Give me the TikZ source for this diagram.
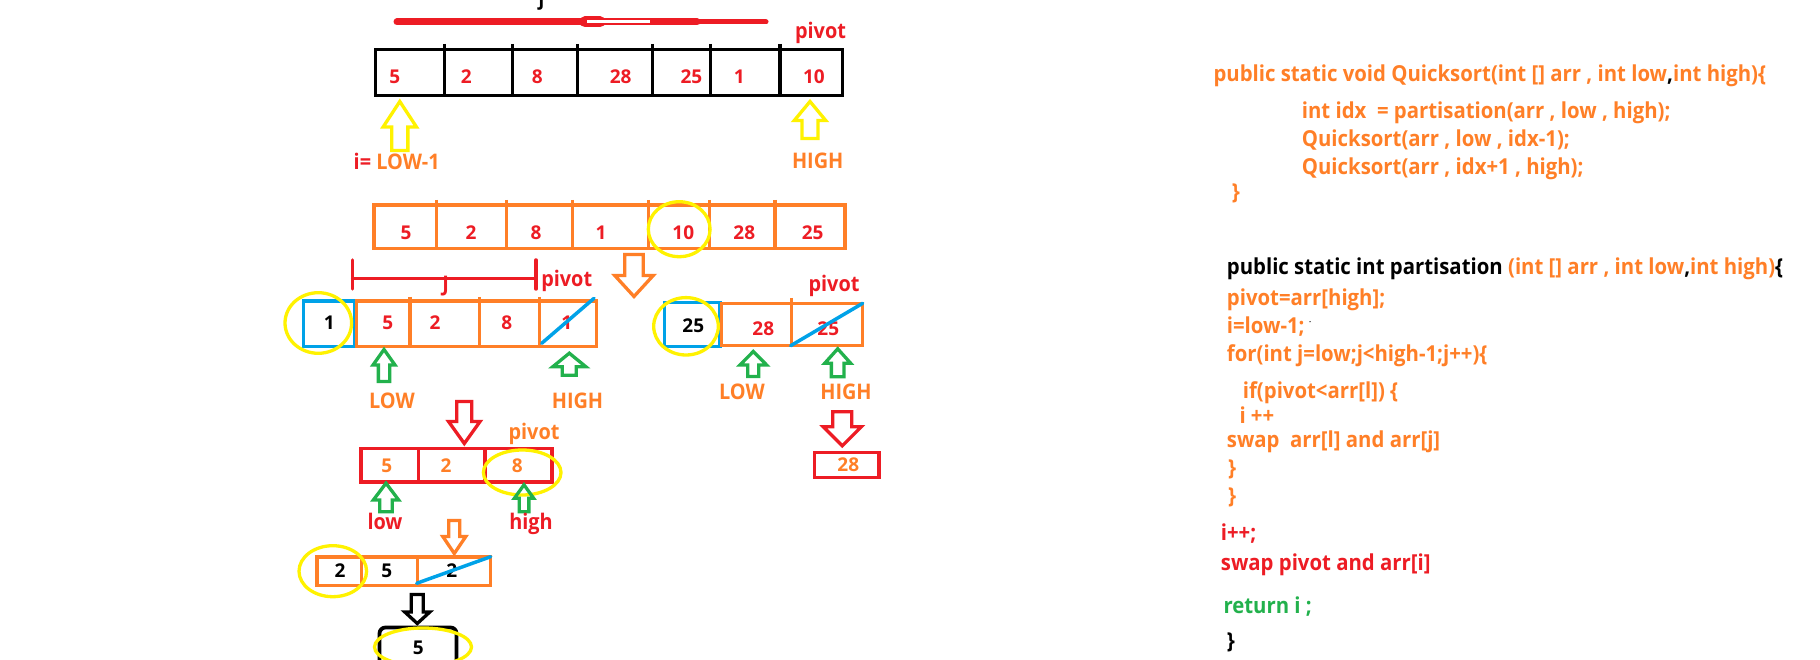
\documentclass[tikz,border=0pt]{standalone}
\usepackage{fontspec}
\setmainfont{Open Sans}
\newfontfamily\codefont{Open Sans}[FakeStretch=0.925]
\definecolor{pred}{HTML}{ED1C24}
\definecolor{porange}{HTML}{FF7F27}
\definecolor{pyellow}{HTML}{FFF200}
\definecolor{pgreen}{HTML}{22B14C}
\definecolor{pblue}{HTML}{00A2E8}
\tikzset{
  lbl/.style={font=\codefont\bfseries\fontsize{21.5}{24}\selectfont, inner sep=0pt, anchor=base},
  num/.style={font=\bfseries\fontsize{19}{21}\selectfont, inner sep=0pt, anchor=center},
  code/.style={font=\codefont\bfseries\fontsize{22}{24}\selectfont, inner sep=0pt, anchor=base west},
  cellbox/.style={line width=3.5pt, line join=miter},
  ring/.style={draw=pyellow, line width=3.3pt},
  slash/.style={draw=pblue, line width=3.5pt, line cap=round},
  pics/harrow/.style args={#1/#2/#3/#4/#5}{code={
    \draw[draw=#5, line width=3.3pt, line join=miter]
      (0,0) -- (-#1/2,#3) -- (-#2/2,#3) -- (-#2/2,#4) -- (#2/2,#4) -- (#2/2,#3) -- (#1/2,#3) -- cycle;}},
}
\begin{document}
\begin{tikzpicture}[x=1pt, y=-1pt]
\useasboundingbox (0,0) rectangle (1820,660);
\fill[white] (0,0) rectangle (1820,660);

% ---------- first pass: whole array ----------
\node[lbl, font=\codefont\bfseries\fontsize{20}{22}\selectfont] (jtop) at (541.5,6) {j};
\draw[pred, line width=7pt, line cap=round] (397,22) -- (697,22);
\draw[pred, line width=5pt, line cap=round] (697,22) -- (766,22);
\draw[pred, line width=11pt, line cap=round] (585,22) -- (600,22);
\draw[white, line width=2.5pt] (587,21.7) -- (650,21.7);

\draw[cellbox] (375.6,49.5) rectangle (842.7,95.5);
\foreach \x in {444.6,512.3,577.4,652.4,710.5,780.2}
  \draw[cellbox] (\x,44) -- (\x,95.5);
\node[lbl, pred] (pv0) at (820.5,38.3) {pivot};
\node[num, pred] (t1) at (394.8,76.7) {5};
\node[num, pred] (t2) at (466.4,76.7) {2};
\node[num, pred] (t3) at (537.2,76.7) {8};
\node[num, pred] (t4) at (620.6,76.7) {28};
\node[num, pred] (t5) at (691.4,76.7) {25};
\node[num, pred] (t6) at (739.2,76.7) {1};
\node[num, pred] (t7) at (813.9,76.7) {10};
\pic at (399.8,101.5) {harrow=33.4/16.1/25.5/49/pyellow};
\pic at (810,101.5) {harrow=31.5/16.1/19/37/pyellow};
\node[lbl] (ilow) at (396.7,170) {\textcolor{pred}{i=} \textcolor{porange}{LOW-1}};
\node[lbl, porange] (hi0) at (817.7,168.3) {HIGH};

% ---------- after partition ----------
\draw[cellbox, porange] (374,205) rectangle (845,248.3);
\foreach \x in {436.7,506.7,572.3,648.3,709.3,775}
  \draw[cellbox, porange] (\x,200) -- (\x,248.3);
\node[num, pred] (p1) at (406,232.5) {5};
\node[num, pred] (p2) at (471,232.5) {2};
\node[num, pred] (p3) at (536,232.5) {8};
\node[num, pred] (p4) at (601,232.5) {1};
\node[num, pred] (p5) at (683.3,232.5) {10};
\node[num, pred] (p6) at (744.3,232.5) {28};
\node[num, pred] (p7) at (812.7,232.5) {25};
\draw[ring] (679.2,229.2) ellipse [x radius=30.9, y radius=27.5];
\pic[yscale=-1] at (634,296.5) {harrow=38.5/18.5/21/42/porange};

% ---------- left part ----------
\draw[pred, line width=3.5pt, line cap=round] (352.5,278.3) -- (536,278.3);
\draw[pred, line width=3.5pt, line cap=round] (352.5,260) -- (352.5,289);
\draw[pred, line width=3.5pt, line cap=round] (536,260) -- (536,289);
\node[lbl, pred] (jl) at (445.7,291.7) {J};
\node[lbl, pred] (pv1) at (566.7,286.7) {pivot};

\draw[cellbox, pblue] (303.5,301) rectangle (355,346.5);
\draw[cellbox, porange] (356.7,301) rectangle (596.5,346.5);
\foreach \x in {410,479.3,539.3}
  \draw[cellbox, porange] (\x,297) -- (\x,346.5);
\node[num] (l0) at (329.3,322.7) {1};
\node[num, pred] (l1) at (387.7,322.7) {5};
\node[num, pred] (l2) at (435,322.7) {2};
\node[num, pred] (l3) at (506.7,322.7) {8};
\node[num, pred] (l4) at (566.7,322.7) {1};
\draw[slash] (541.7,343.3) -- (594,298.3);
\draw[ring] (318.3,323) ellipse [x radius=33.3, y radius=30.3];
\pic at (384,349.5) {harrow=22/11.3/15.5/32/pgreen};
\pic at (569.3,353.2) {harrow=33/14/13.5/22/pgreen};
\node[lbl, porange] (lo1) at (392,408.3) {LOW};
\node[lbl, porange] (hi1) at (577.5,408.3) {HIGH};

% ---------- right part ----------
\node[lbl, pred] (pv2) at (834,291.7) {pivot};
\draw[cellbox, pblue] (664.5,302.7) rectangle (720,346.5);
\draw[cellbox, porange] (721.7,303.5) rectangle (862.3,345.5);
\draw[cellbox, porange] (791.7,298) -- (791.7,345.5);
\node[num] (r0) at (693.3,326) {25};
\node[num, pred] (r1) at (763.3,328.3) {28};
\node[num, pred] (r2) at (828.3,328.3) {25};
\draw[slash] (790.7,345.7) -- (862.7,303.3);
\draw[ring] (686,326.3) ellipse [x radius=32.3, y radius=28.7];
\pic at (753.3,351.5) {harrow=26.7/11/13.5/25/pgreen};
\pic at (837.7,348.8) {harrow=26/12.7/14.5/28/pgreen};
\node[lbl, porange] (lo2) at (742,399.3) {LOW};
\node[lbl, porange] (hi2) at (846,399.3) {HIGH};
\pic[yscale=-1] at (842.3,445.8) {harrow=38/19/19/34/pred};
\draw[cellbox, pred] (814.5,452.5) rectangle (878.9,477.5);
\node[num, porange] (r28) at (848.3,464.3) {28};

% ---------- sub-array 5 2 8 ----------
\pic[yscale=-1] at (464.3,443.5) {harrow=31.5/15/22/42/pred};
\node[lbl, porange] (pv3) at (534,439.3) {pivot};
\draw[cellbox, pred] (360.8,448.5) rectangle (552.2,482.2);
\foreach \x in {418.3,485}
  \draw[cellbox, pred] (\x,448.5) -- (\x,482.2);
\node[num, porange] (s1) at (386.7,465.7) {5};
\node[num, porange] (s2) at (446,465.7) {2};
\node[num, porange] (s3) at (517.3,465.7) {8};
\draw[ring] (522.2,472.5) ellipse [x radius=38.8, y radius=22.5];
\pic at (386,483.2) {harrow=25.3/12.6/16.8/28.6/pgreen};
\pic at (524,484.8) {harrow=19.3/9.7/13.5/27/pgreen};
\node[lbl, pred] (lo3) at (385,529.3) {low};
\node[lbl, pred] (hi3) at (531,529.3) {high};

% ---------- sub-array 2 5 2 ----------
\pic[yscale=-1] at (454.3,553.5) {harrow=23/11/17/33/porange};
\draw[cellbox, porange] (316.8,556.8) rectangle (490.5,585.5);
\foreach \x in {361.7,417.7}
  \draw[cellbox, porange] (\x,556.8) -- (\x,585.5);
\node[num] (u1) at (340,570.7) {2};
\node[num] (u2) at (386.7,570.7) {5};
\node[num] (u3) at (451.7,570.7) {2};
\draw[slash] (416.7,583.3) -- (490.7,556.7);
\draw[ring] (332.8,571.2) ellipse [x radius=33.8, y radius=25.5];

% ---------- last element ----------
\pic[yscale=-1] at (417.3,623.5) {harrow=25/12/11.5/29/black};
\draw[line width=3.8pt, rounded corners=6pt] (379.5,680) -- (379.5,627.5) -- (456.5,627.5) -- (456.5,680);
\node[num] (v1) at (418.3,648.3) {5};
\draw[ring] (423,647) ellipse [x radius=48.5, y radius=19];

% ---------- code ----------
\node[code, porange] (c1) at (1213.3,81.7) {public static void Quicksort(int [] arr , int low\textcolor{black}{,}int high)\{};
\node[code, porange] (c2) at (1301.7,118.3) {int idx\ \ = partisation(arr , low , high);};
\node[code, porange] (c3) at (1301.7,146.7) {Quicksort(arr , low , idx-1);};
\node[code, porange] (c4) at (1301.7,175) {Quicksort(arr , idx+1 , high);};
\node[code, porange] (c5) at (1231.7,200) {\}};

\node[code] (d1) at (1226.7,275) {public static int partisation \textcolor{porange}{(int [] arr , int low}\textcolor{black}{,}\textcolor{porange}{int high)}\{};
\node[code, porange] (d2) at (1226.7,305.7) {pivot=arr[high];};
\node[code, porange] (d3) at (1226.7,333.3) {i=low-1;};
\fill (1310,321.7) circle (0.7);
\node[code, porange] (d4) at (1226.7,361.7) {for(int j=low;j<high-1;j++)\{};
\node[code, porange] (d5) at (1242.7,398.3) {if(pivot<arr[l]) \{};
\node[code, porange] (d6) at (1239.3,423.3) {i ++};
\node[code, porange] (d7) at (1226.7,447.7) {swap\ \ arr[l] and arr[j]};
\node[code, porange] (d8) at (1228,475) {\}};
\node[code, porange] (d9) at (1228,503.3) {\}};
\node[code, pred] (d10) at (1220.7,540) {i++;};
\node[code, pred] (d11) at (1220.7,570) {swap pivot and arr[i]};
\node[code, pgreen] (d12) at (1223.3,613.3) {return i ;};
\node[code] (d13) at (1226.7,648.3) {\}};
\end{tikzpicture}
\end{document}
